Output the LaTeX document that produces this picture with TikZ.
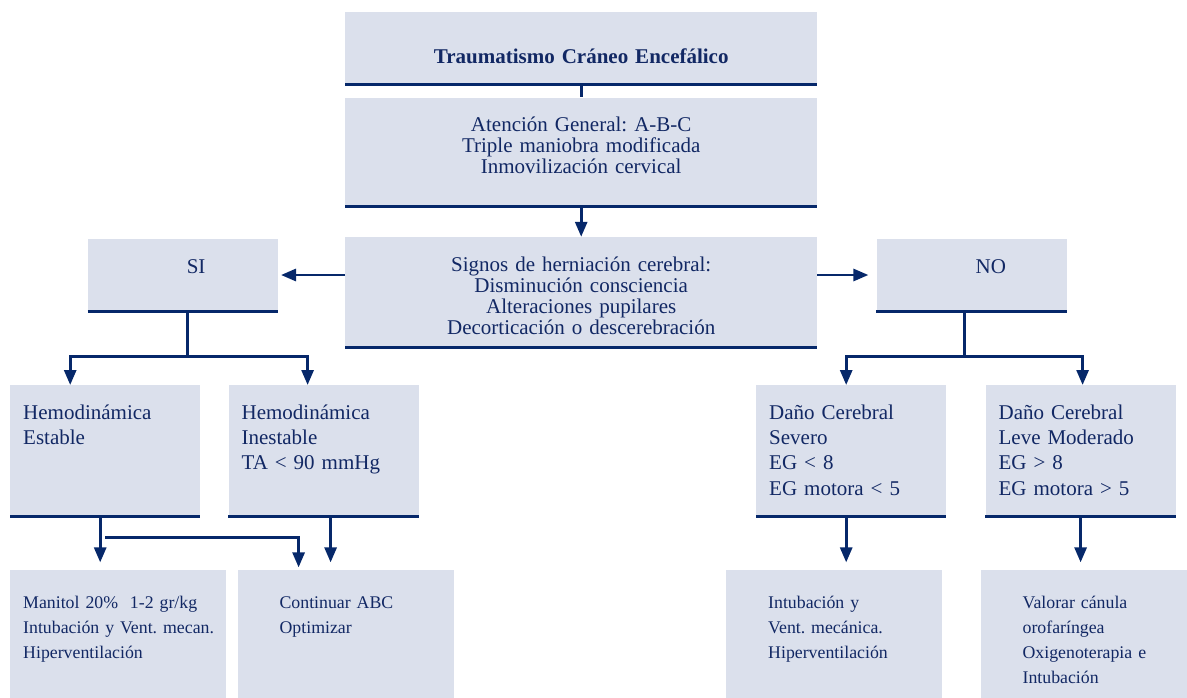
\documentclass[tikz,border=0pt]{standalone}
\usepackage{fontspec}
\setmainfont{Liberation Serif}
\usepackage{tikz}
\usetikzlibrary{positioning, arrows.meta}
\frenchspacing
\definecolor{boxfill}{RGB}{219,224,236}
\definecolor{ink}{RGB}{6,40,106}
\definecolor{txt}{RGB}{18,40,100}
\tikzset{
	box/.style={fill=boxfill, text=txt, inner sep=0pt}, % fondo de las cajas
	bar/.style={draw=ink, line width=3pt}, % linea bajo cada caja
	link/.style={draw=ink, line width=2.8pt},
	arr/.style={link, -{Triangle[length=15pt,width=12pt]}},
	head/.style={box, text width=472pt, align=center, font=\fontsize{21}{21}\selectfont},
	tag/.style={box, text width=190pt, align=left, text height=34pt, text depth=38pt, font=\fontsize{21}{21}\selectfont},
	cond/.style={box, inner xsep=13pt, text width=164pt, align=left, text height=34pt, text depth=97pt, font=\fontsize{21}{25.3}\selectfont},
	leaf/.style={box, inner xsep=42pt, text width=132pt, align=left, text height=39pt, text depth=101pt, font=\fontsize{17.8}{25}\selectfont},
}
\begin{document}
\begin{tikzpicture}[x=1pt, y=1pt]
	\useasboundingbox (0,0) rectangle (1187,-697);
	\clip (0,0) rectangle (1187,-697);
	
	% Cajas centrales
	\node[head, text height=51pt, text depth=21pt, anchor=north west] (tce) at (345,-12) {\bfseries Traumatismo Cráneo Encefálico};
	\node[head, text height=34pt, text depth=75pt, below=13pt of tce] (abc) {Atención General: A-B-C\\Triple maniobra modificada\\Inmovilización cervical};
	\node[head, text height=34pt, text depth=76pt, below=30pt of abc] (signos) {Signos de herniación cerebral:\\Disminución consciencia\\Alteraciones pupilares\\Decorticación o descerebración};
	
	% SI / NO
	\node[tag, left=67pt of signos.north west, anchor=north east, yshift=-2pt] (si) {\hspace*{99pt}SI};
	\node[tag, right=59pt of signos.north east, anchor=north west, yshift=-2pt] (no) {\hspace*{99pt}NO};
	
	% Estado del paciente
	\node[cond, anchor=north west] (hest) at (10,-385) {Hemodinámica\\Estable};
	\node[cond, right=28pt of hest] (hinest) {Hemodinámica\\Inestable\\TA < 90 mmHg};
	\node[cond, anchor=north west] (dsev) at (756,-385) {Daño Cerebral\\Severo\\EG < 8\\EG motora < 5};
	\node[cond, right=39pt of dsev] (dleve) {Daño Cerebral\\Leve Moderado\\EG > 8\\EG motora > 5};
	
	% Tratamiento
	\node[leaf, inner xsep=13pt, text width=190pt, below=53pt of hest.south west, anchor=north west] (manitol) {Manitol 20\%~ 1-2 gr/kg\\\mbox{Intubación y Vent. mecan.}\\Hiperventilación};
	\node[leaf, right=11pt of manitol] (cabc) {Continuar ABC\\Optimizar};
	\node[leaf, below=53pt of dsev.south west, anchor=north west, xshift=-30pt] (intub) {Intubación y\\Vent. mecánica.\\Hiperventilación};
	\node[leaf, right=38pt of intub] (valorar) {Valorar cánula\\orofaríngea\\Oxigenoterapia e\\Intubación};
	
	% Lineas inferiores
	\foreach \n in {tce,abc,signos,si,no,hest,hinest,dsev,dleve}
		\draw[bar] (\n.south west) -- (\n.south east);
	
	% Conexiones
	\draw[link] (tce) -- (abc);
	\draw[arr] (abc) -- (signos);
	\draw[arr, shorten >=3pt] (signos.west |- si) -- (si);
	\draw[arr, shorten >=8pt] (signos.east |- no) -- (no);
	
	\draw[link] ([xshift=5pt]si.south) -- ++(0,-45) coordinate (sifork);
	\draw[arr] (sifork) -| ([xshift=-35pt]hest.north);
	\draw[arr] (sifork) -| ([xshift=-16pt]hinest.north);
	\draw[link] ([xshift=-7pt]no.south) -- ++(0,-45) coordinate (nofork);
	\draw[arr] (nofork) -| ([xshift=-5pt]dsev.north);
	\draw[arr] (nofork) -| ([xshift=2pt]dleve.north);
	
	\draw[arr, shorten >=7pt] ([xshift=-5pt]hest.south) -- ([xshift=-5pt]hest.south |- manitol.north);
	\draw[arr, shorten >=2pt] ([yshift=-21pt]hest.south) -| ([xshift=-47pt]cabc.north);
	\draw[arr, shorten >=7pt] ([xshift=7pt]hinest.south) -- ([xshift=7pt]hinest.south |- cabc.north);
	\draw[arr, shorten >=7pt] ([xshift=-5pt]dsev.south) -- ([xshift=-5pt]dsev.south |- intub.north);
	\draw[arr, shorten >=7pt] (dleve.south) -- (dleve.south |- valorar.north);
\end{tikzpicture}
\end{document}
